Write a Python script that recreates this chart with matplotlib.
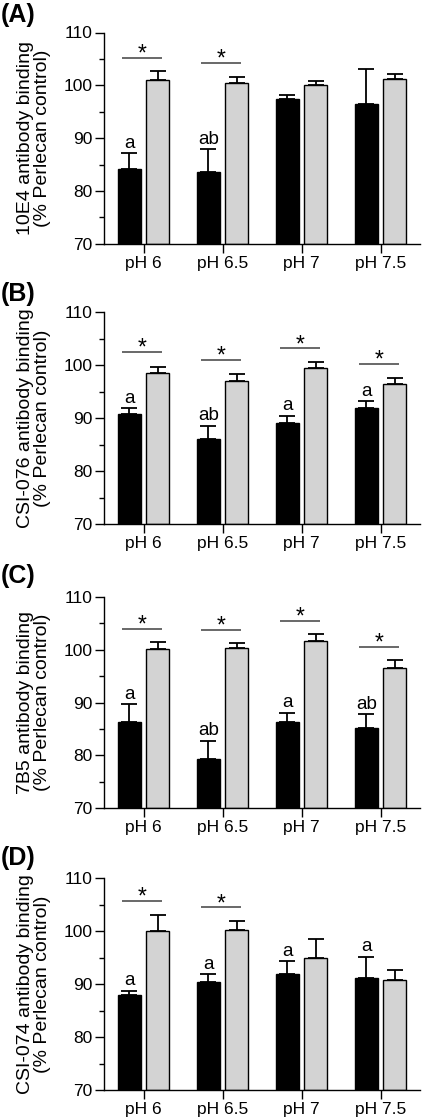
import matplotlib
matplotlib.use("Agg")
import matplotlib.pyplot as plt
import numpy as np

plt.rcParams['font.family'] = ['Liberation Sans', 'DejaVu Sans']

categories = ["pH 6", "pH 6.5", "pH 7", "pH 7.5"]
panel_labels = ["(A)", "(B)", "(C)", "(D)"]
ylabels = ["10E4 antibody binding\n(% Perlecan control)",
           "CSI-076 antibody binding\n(% Perlecan control)",
           "7B5 antibody binding\n(% Perlecan control)",
           "CSI-074 antibody binding\n(% Perlecan control)"]

black_A = [84.2, 83.5, 97.5, 96.4]
black_A_err = [3.0, 4.4, 0.7, 6.6]
gray_A = [101.0, 100.4, 100.1, 101.2]
gray_A_err = [1.7, 1.1, 0.8, 1.0]

black_B = [90.7, 86.0, 89.0, 91.9]
black_B_err = [1.2, 2.6, 1.5, 1.3]
gray_B = [98.6, 97.1, 99.4, 96.5]
gray_B_err = [1.1, 1.2, 1.2, 1.0]

black_C = [86.4, 79.4, 86.3, 85.2]
black_C_err = [3.3, 3.4, 1.8, 2.6]
gray_C = [100.2, 100.4, 101.7, 96.5]
gray_C_err = [1.3, 0.9, 1.2, 1.6]

black_D = [87.9, 90.5, 92.0, 91.2]
black_D_err = [0.9, 1.4, 2.4, 4.0]
gray_D = [100.0, 100.2, 94.9, 90.7]
gray_D_err = [3.1, 1.8, 3.6, 2.0]

letters_A = ["a", "ab", "", ""]
letters_B = ["a", "ab", "a", "a"]
letters_C = ["a", "ab", "a", "ab"]
letters_D = ["a", "a", "a", "a"]

# significance bar heights (None = no bar)
sig_A = [105.2, 104.2, None, None]
sig_B = [102.5, 101.0, 103.2, 100.2]
sig_C = [103.9, 103.7, 105.5, 100.6]
sig_D = [105.7, 104.5, None, None]

panels = [
    (black_A, black_A_err, gray_A, gray_A_err, letters_A, sig_A),
    (black_B, black_B_err, gray_B, gray_B_err, letters_B, sig_B),
    (black_C, black_C_err, gray_C, gray_C_err, letters_C, sig_C),
    (black_D, black_D_err, gray_D, gray_D_err, letters_D, sig_D),
]

W, H = 422, 1120
fig = plt.figure(figsize=(W / 100, H / 100), dpi=100)

# pixel boxes (top, bottom) for each axes
boxes = [(32.5, 243.8), (312.3, 524.0), (596.8, 808.3), (878.3, 1090.0)]
label_y = [15, 294, 576, 858]
left_px, right_px = 104, 420

x = np.arange(len(categories))
off = 0.18
bw = 0.29

for i, (bk, bke, gr, gre, lets, sig) in enumerate(panels):
    top, bot = boxes[i]
    ax = fig.add_axes([left_px / W, 1 - bot / H, (right_px - left_px) / W, (bot - top) / H])
    ax.bar(x - off, np.array(bk) - 70, bottom=70, width=bw, color='black',
           edgecolor='black', linewidth=1.0, zorder=2)
    ax.bar(x + off, np.array(gr) - 70, bottom=70, width=bw, color='#d3d3d3',
           edgecolor='black', linewidth=1.0, zorder=2)
    ax.errorbar(x - off, bk, yerr=[np.zeros(4), bke], fmt='none', ecolor='black',
                elinewidth=1.3, capsize=5.5, capthick=1.3, zorder=1)
    ax.errorbar(x + off, gr, yerr=[np.zeros(4), gre], fmt='none', ecolor='black',
                elinewidth=1.3, capsize=5.5, capthick=1.3, zorder=1)
    for j in range(4):
        if lets[j]:
            ax.annotate(lets[j], (x[j] - off, bk[j] + bke[j]), xytext=(0, 3.8),
                        textcoords='offset points', ha='center', va='baseline',
                        fontsize=13.5)
        if sig[j] is not None:
            ax.plot([x[j] - 0.27, x[j] + 0.24], [sig[j], sig[j]], color='#404040',
                    lw=1.1, solid_capstyle='butt', clip_on=False)
            ax.annotate('*', (x[j] - 0.02, sig[j]), xytext=(0, -2),
                        textcoords='offset points', ha='center', va='baseline',
                        fontsize=16.5)
    ax.set_xlim(-0.5, 3.5)
    ax.set_ylim(70, 110)
    ax.set_yticks([70, 80, 90, 100, 110])
    ax.set_yticks([75, 85, 95, 105], minor=True)
    ax.set_xticks(x)
    ax.set_xticklabels(categories)
    for s in ['top', 'right']:
        ax.spines[s].set_visible(False)
    for s in ['left', 'bottom']:
        ax.spines[s].set_linewidth(1.0)
    ax.tick_params(axis='both', which='major', length=6.5, width=1.0,
                   labelsize=12.5, pad=2, direction='out')
    ax.tick_params(axis='y', which='minor', length=3.5, width=1.0)
    ax.set_ylabel(ylabels[i], fontsize=14, linespacing=1.0, labelpad=9)
    fig.text(1 / W, 1 - label_y[i] / H, panel_labels[i], fontsize=18,
             fontweight='bold', ha='left', va='center')

fig.savefig("out.png", dpi=100)
